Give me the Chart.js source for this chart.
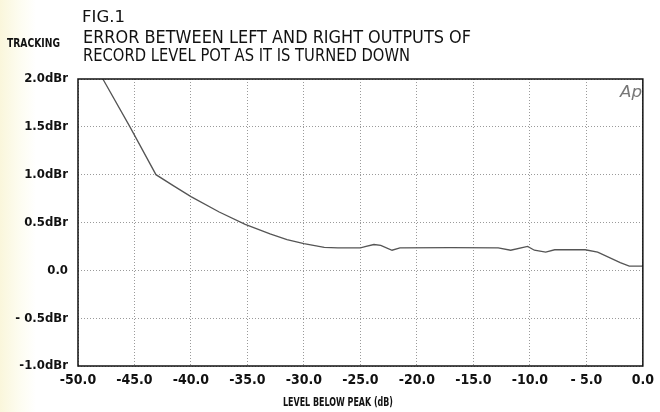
<!DOCTYPE html>
<html>
<head>
<meta charset="utf-8">
<script src="https://cdn.jsdelivr.net/npm/chart.js@4"></script>
<style>
  html, body { margin: 0; padding: 0; background: #fff; }
  #wrap { width: 660px; height: 412px; }
</style>
</head>
<body>
<div id="wrap"><canvas id="myChart" width="660" height="412"></canvas></div>
<script>
// #region data
const levelDb = [
    -47.8, -45.4, -43.1, -41.5, -40.0, -37.5, -35.2, -33.0, -31.5, -30.0,
    -28.2, -27.0, -25.0, -24.5, -23.8, -23.2, -22.2, -21.5, -17.0, -12.8,
    -11.7, -10.2, -9.6, -8.6, -7.8, -5.1, -4.0, -2.0, -1.2, 0.0
];
const trackingError = [
    2.0, 1.5, 1.0, 0.88, 0.77, 0.61, 0.48, 0.38, 0.32, 0.28,
    0.24, 0.235, 0.235, 0.25, 0.27, 0.26, 0.21, 0.235, 0.237, 0.235,
    0.21, 0.25, 0.21, 0.19, 0.215, 0.215, 0.19, 0.08, 0.045, 0.045
];
const xTickLabels = ['-50.0', '-45.0', '-40.0', '-35.0', '-30.0', '-25.0',
    '-20.0', '-15.0', '-10.0', '- 5.0', '0.0'];
const yTickLabels = ['-1.0dBr', '- 0.5dBr', '0.0', '0.5dBr', '1.0dBr', '1.5dBr', '2.0dBr'];
// #endregion data

const
    graph = document.querySelector('#myChart'),
    narrow = "'Liberation Sans Narrow', 'DejaVu Sans Condensed', 'Liberation Sans', sans-serif";

// squeeze a text to a given width (old typeset lettering is wide-spaced)
function fitText(ctx, text, x, y, width) {
    const w = ctx.measureText(text).width;
    ctx.save();
    ctx.translate(x, y);
    ctx.scale(width / w, 1);
    ctx.fillText(text, 0, 0);
    ctx.restore();
}

const pagePlugin = {
    id: 'pagePlugin',
    beforeDraw(chart) {
        const ctx = chart.ctx;
        const g = ctx.createLinearGradient(0, 0, 36, 0);
        g.addColorStop(0, '#faf6db');
        g.addColorStop(0.5, '#fdfcef');
        g.addColorStop(1, '#ffffff');
        ctx.save();
        ctx.fillStyle = g;
        ctx.fillRect(0, 0, chart.width, chart.height);
        ctx.restore();
    },
    afterDraw(chart) {
        const ctx = chart.ctx, a = chart.chartArea;
        ctx.save();
        // plot frame
        ctx.strokeStyle = '#111';
        ctx.lineWidth = 1.5;
        ctx.strokeRect(a.left, a.top, a.right - a.left, a.bottom - a.top);

        ctx.fillStyle = '#111';
        ctx.textBaseline = 'alphabetic';
        ctx.font = "15px 'DejaVu Sans', sans-serif";
        fitText(ctx, 'FIG.1', 82, 22, 43);
        ctx.font = "17px 'DejaVu Sans', sans-serif";
        fitText(ctx, 'ERROR BETWEEN LEFT AND RIGHT OUTPUTS OF', 83, 43, 388);
        fitText(ctx, 'RECORD LEVEL POT AS IT IS TURNED DOWN', 83, 61, 327);
        ctx.font = "bold 12px " + narrow;
        fitText(ctx, 'TRACKING', 7, 47, 53);
        fitText(ctx, 'LEVEL BELOW PEAK (dB)', 283, 406, 110);
        ctx.fillStyle = '#777';
        ctx.font = "italic 16px 'DejaVu Sans', sans-serif";
        fitText(ctx, 'Ap', 620, 97, 22);
        ctx.restore();
    }
};

function graphrender() {
    const ctx = graph.getContext('2d');

    new Chart(ctx, {
        type: 'line',
        data: {
            datasets: [{
                data: levelDb.map((x, i) => ({ x: x, y: trackingError[i] })),
                borderColor: '#555',
                borderWidth: 1.3,
                pointRadius: 0,
                fill: false,
                tension: 0
            }]
        },
        options: {
            responsive: false,
            animation: false,
            events: [],
            layout: { padding: { left: 0, right: 12, top: 79, bottom: 0 } },
            plugins: {
                legend: { display: false },
                tooltip: { enabled: false }
            },
            scales: {
                x: {
                    type: 'linear',
                    min: -50,
                    max: 0,
                    ticks: {
                        stepSize: 5,
                        color: '#111',
                        padding: 6,
                        maxRotation: 0,
                        font: { family: narrow, size: 14, weight: 'bold' },
                        callback: (v, i) => xTickLabels[i]
                    },
                    grid: { color: '#9a9a9a', lineWidth: 1, drawTicks: false },
                    border: { display: false, dash: [1, 2] },
                    afterFit: (s) => { s.height = 46; }
                },
                y: {
                    min: -1,
                    max: 2,
                    ticks: {
                        stepSize: 0.5,
                        color: '#111',
                        padding: 10,
                        font: { family: narrow, size: 13, weight: 'bold' },
                        callback: (v, i) => yTickLabels[i]
                    },
                    grid: { color: '#9a9a9a', lineWidth: 1, drawTicks: false },
                    border: { display: false, dash: [1, 2] },
                    afterFit: (s) => { s.width = 78; }
                }
            }
        },
        plugins: [pagePlugin]
    });
}

graphrender();
</script>
</body>
</html>
